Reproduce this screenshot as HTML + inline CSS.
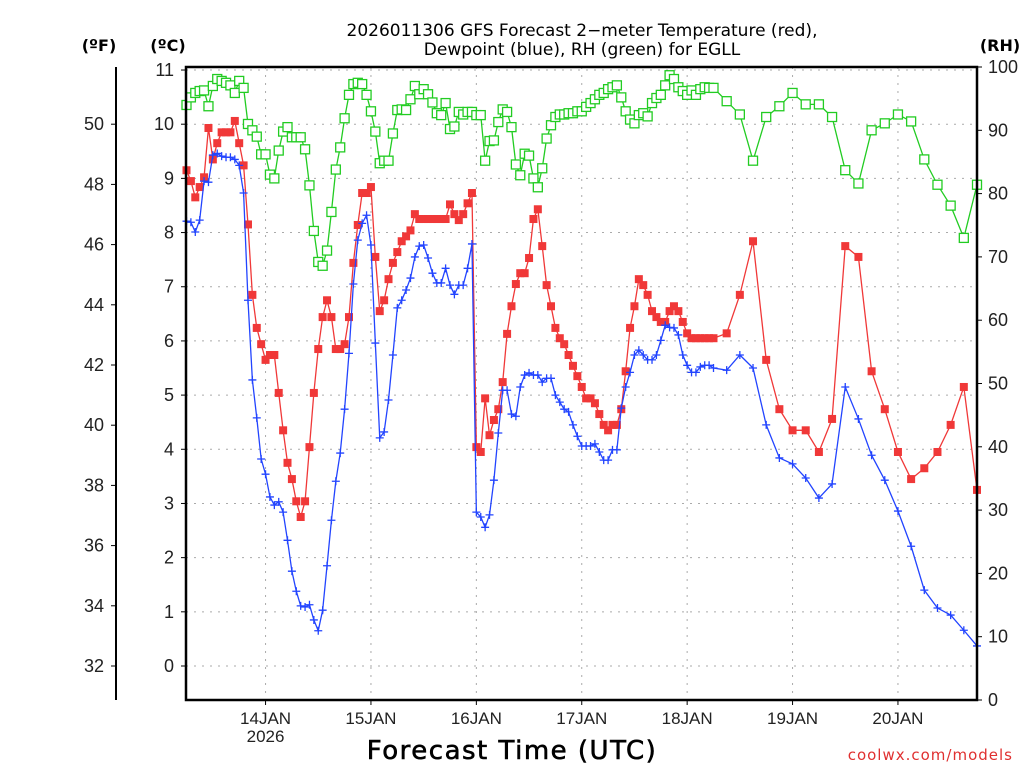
<!DOCTYPE html>
<html><head><meta charset="utf-8"><style>
html,body{margin:0;padding:0;background:#fff;}
svg{display:block;font-family:"Liberation Sans","DejaVu Sans",sans-serif;}
</style></head><body>
<svg id="chart" width="1024" height="768" viewBox="0 0 1024 768" xmlns="http://www.w3.org/2000/svg">
<rect width="1024" height="768" fill="#fff"/>
<text x="582" y="36" font-size="17" text-anchor="middle" fill="#000" font-family="DejaVu Sans">2026011306 GFS Forecast 2−meter Temperature (red),</text>
<text x="582" y="55" font-size="17" text-anchor="middle" fill="#000" font-family="DejaVu Sans">Dewpoint (blue), RH (green) for EGLL</text>
<text x="99" y="51" font-size="16" font-weight="bold" text-anchor="middle" font-family="DejaVu Sans">(ºF)</text>
<text x="168" y="51" font-size="16" font-weight="bold" text-anchor="middle" font-family="DejaVu Sans">(ºC)</text>
<text x="1000" y="51" font-size="16" font-weight="bold" text-anchor="middle" font-family="DejaVu Sans">(RH)</text>
<text x="512" y="759" font-size="26" text-anchor="middle" letter-spacing="1.5" font-family="DejaVu Sans" stroke="#000" stroke-width="0.6">Forecast Time (UTC)</text>
<text x="1013" y="760" font-size="15" text-anchor="end" fill="#e03030" letter-spacing="1" font-family="DejaVu Sans">coolwx.com/models</text>
<g id="grid"></g><g id="series"></g><g id="axes"></g>
</svg>
<script>
const hourlyHours = 120; // hours 0..120 hourly, then 3-hourly to 180
const tempC = [9.15,8.95,8.65,8.84,9.02,9.93,9.35,9.65,9.85,9.85,9.85,10.06,9.65,9.24,8.15,6.85,6.24,5.94,5.65,5.74,5.74,5.04,4.35,3.75,3.45,3.04,2.75,3.04,4.04,5.04,5.85,6.44,6.75,6.44,5.85,5.85,5.94,6.44,7.44,8.14,8.73,8.73,8.84,7.55,6.55,6.75,7.14,7.44,7.64,7.84,7.93,8.04,8.34,8.25,8.25,8.25,8.25,8.25,8.25,8.25,8.52,8.34,8.23,8.34,8.54,8.73,4.04,3.95,4.94,4.26,4.54,4.74,5.24,6.13,6.64,7.05,7.25,7.25,7.53,8.25,8.43,7.75,7.03,6.64,6.24,6.05,5.94,5.74,5.54,5.35,5.15,4.94,4.94,4.85,4.65,4.45,4.35,4.45,4.45,4.74,5.44,6.24,6.64,7.14,7.03,6.85,6.55,6.44,6.35,6.35,6.55,6.64,6.55,6.35,6.14,6.05,6.05,6.05,6.05,6.05,6.05,
6.14,6.85,7.84,5.65,4.74,4.35,4.35,3.95,4.56,7.75,7.55,5.44,4.74,3.95,3.45,3.65,3.95,4.45,5.15,3.25];
const dewC = [8.21,8.19,8.01,8.23,8.95,8.93,9.43,9.46,9.41,9.39,9.39,9.35,9.24,8.73,6.75,5.28,4.58,3.82,3.54,3.12,2.97,3.03,2.84,2.32,1.75,1.38,1.11,1.09,1.13,0.85,0.65,1.03,1.85,2.69,3.41,3.93,4.74,5.77,7.05,7.86,8.17,8.32,7.77,5.96,4.21,4.32,4.91,5.74,6.61,6.75,6.94,7.16,7.55,7.75,7.77,7.53,7.25,7.07,7.07,7.34,7.03,6.86,7.03,7.03,7.34,7.79,2.84,2.75,2.56,2.79,3.43,4.30,5.09,5.09,4.65,4.61,5.15,5.37,5.41,5.37,5.37,5.24,5.31,5.31,5.00,4.87,4.74,4.69,4.45,4.24,4.06,4.06,4.06,4.10,3.95,3.80,3.80,3.99,3.99,4.76,5.15,5.42,5.74,5.83,5.74,5.65,5.65,5.74,6.01,6.29,6.25,6.24,6.11,5.74,5.55,5.42,5.42,5.52,5.55,5.55,5.50,
5.46,5.74,5.50,4.45,3.84,3.73,3.47,3.10,3.36,5.15,4.56,3.89,3.43,2.86,2.21,1.40,1.07,0.94,0.66,0.37];
const rhPct = [94.0,95.2,95.9,96.2,96.3,93.8,97.0,98.1,97.8,97.5,97.1,95.9,97.8,96.7,91.0,90.0,89.0,86.2,86.2,83.0,82.4,86.8,89.8,90.5,88.9,88.9,88.9,87.0,81.3,74.1,69.2,68.6,71.0,77.1,83.8,87.3,91.9,95.6,97.3,97.5,97.3,95.6,93.0,89.8,84.8,85.2,85.2,89.5,93.2,93.3,93.2,94.9,97.0,95.7,96.5,95.7,94.4,92.7,92.4,94.3,90.2,90.6,92.9,92.5,92.9,92.9,92.4,92.4,85.2,88.3,88.4,91.3,93.3,92.9,90.5,84.6,82.9,86.3,86.0,82.4,81.0,84.0,88.7,90.8,92.1,92.5,92.5,92.7,92.7,93.0,93.0,93.7,94.3,94.9,95.6,95.9,96.5,96.8,97.1,95.2,93.0,91.7,91.1,92.4,92.7,92.2,94.3,95.1,95.6,97.1,98.7,98.1,96.8,96.2,95.6,96.3,95.6,96.5,96.8,96.7,96.7,
94.6,92.5,85.2,92.1,93.8,95.9,94.1,94.1,92.1,83.7,81.6,90.0,91.1,92.5,91.4,85.4,81.4,78.1,73.0,81.4];
const celsiusTicks = [0,1,2,3,4,5,6,7,8,9,10,11];
const fahrenheitTicks = [32,34,36,38,40,42,44,46,48,50];
const rhTicks = [0,10,20,30,40,50,60,70,80,90,100];
const dayLabels = ["14JAN","15JAN","16JAN","17JAN","18JAN","19JAN","20JAN"];
const dayHours = [18,42,66,90,114,138,162];

const L=186,R=977,T=67,B=700;
const xH = h => 186.5 + h*(R-186.5)/180;
const yC = c => 666 - c*54.18;
const yF = f => yC((f-32)/1.8);
const yRH = r => B - r*(B-T)/100;
const hourAt = i => i<=hourlyHours ? i : hourlyHours + 3*(i-hourlyHours);
const NS="http://www.w3.org/2000/svg";
function mk(tag, attrs, parent){const e=document.createElementNS(NS,tag);for(const k in attrs)e.setAttribute(k,attrs[k]);parent.appendChild(e);return e;}
const grid=document.getElementById('grid'), ser=document.getElementById('series'), axes=document.getElementById('axes');

celsiusTicks.forEach(c=>{
  const g=mk('line',{x1:L,x2:R,y1:yC(c),y2:yC(c),stroke:'#aaa','stroke-dasharray':'2,6'},grid);
  
  
  const t=mk('line',{x1:L-5,x2:L,y1:yC(c),y2:yC(c),stroke:'#000'},axes);
  
  
  const tx=mk('text',{x:L-12,y:yC(c)+6,'font-size':18,'text-anchor':'end',fill:'#222'},axes);
  tx.textContent=c;
  
  
});
fahrenheitTicks.forEach(f=>{
  const t=mk('line',{x1:111,x2:116,y1:yF(f),y2:yF(f),stroke:'#000'},axes);
  
  
  const tx=mk('text',{x:104,y:yF(f)+6,'font-size':18,'text-anchor':'end',fill:'#222'},axes);
  tx.textContent=f;
  
  
});
rhTicks.forEach(r=>{
  const t=mk('line',{x1:R,x2:R+5,y1:yRH(r),y2:yRH(r),stroke:'#000'},axes);
  
  
  const tx=mk('text',{x:988,y:yRH(r)+6,'font-size':18,'text-anchor':'start',fill:'#222'},axes);
  tx.textContent=r;
  
  
});
dayHours.forEach((h,i)=>{
  const x=xH(h);
  const g=mk('line',{x1:x,x2:x,y1:T,y2:B,stroke:'#aaa','stroke-dasharray':'2,6'},grid);
  
  
  const t=mk('line',{x1:x,x2:x,y1:B,y2:B+5,stroke:'#000'},axes);
  
  
  const tx=mk('text',{x:x,y:724,'font-size':17,'text-anchor':'middle',fill:'#222'},axes);
  tx.textContent=dayLabels[i];
  
  
});
const yr=mk('text',{x:xH(dayHours[0]),y:742,'font-size':17,'text-anchor':'middle',fill:'#222'},axes);
yr.textContent='2026';



const box=mk('rect',{x:L,y:T,width:R-L,height:B-T,fill:'none',stroke:'#000','stroke-width':2.5},axes);


const fax=mk('line',{x1:116,x2:116,y1:T,y2:B,stroke:'#000','stroke-width':2},axes);



function series(vals, yf, color, marker, name){
  const g=mk('g',{},ser);
  
  
  const pts=vals.map((v,i)=>[xH(hourAt(i)),yf(v)]);
  const pl=mk('polyline',{points:pts.map(p=>p.join(',')).join(' '),fill:'none',stroke:color,'stroke-width':1.3},g);
  
  
  pts.forEach(p=>{
    let m;
    if(marker==='filled'){m=mk('rect',{x:p[0]-4,y:p[1]-4,width:8,height:8,fill:color},g);}
    else if(marker==='open'){m=mk('rect',{x:p[0]-4.5,y:p[1]-4.5,width:9,height:9,fill:'#fff',stroke:color,'stroke-width':1.3},g);}
    else {m=mk('path',{d:`M${p[0]-4},${p[1]}h8M${p[0]},${p[1]-4}v8`,stroke:color,'stroke-width':1.3},g);}
    
    
  });
}
series(rhPct, yRH, '#22cc22', 'open', 'rh');
series(tempC, yC, '#f03838', 'filled', 'temperature');
series(dewC, yC, '#2244ff', 'plus', 'dewpoint');
</script>
</body></html>
